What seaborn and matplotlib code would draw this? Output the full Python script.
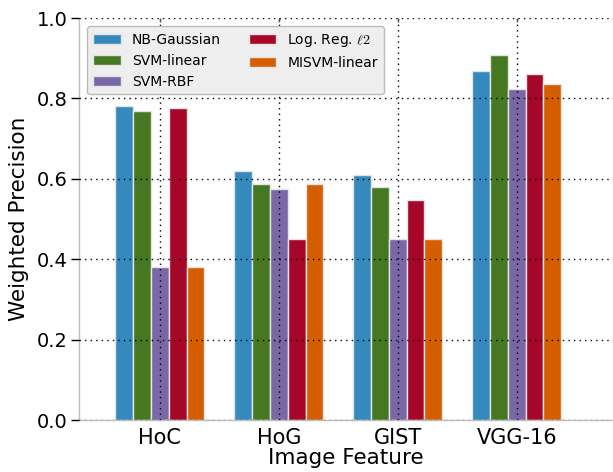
import seaborn as sns
import pandas as pd
import matplotlib.pyplot as plt

features = ["HoC", "HoG", "GIST", "VGG-16"]
methods = ["NB-Gaussian", "SVM-linear", "SVM-RBF", r"Log. Reg. $\ell2$", "MISVM-linear"]
nb_gaussian = [0.780, 0.620, 0.609, 0.868]
svm_linear = [0.769, 0.588, 0.579, 0.909]
svm_rbf = [0.380, 0.574, 0.451, 0.823]
log_reg = [0.775, 0.451, 0.547, 0.861]
misvm_linear = [0.380, 0.588, 0.451, 0.835]
colors = ["#348ABD", "#467821", "#7A68A6", "#A60628", "#D55E00"]

rows = []
for m, vals in zip(methods, [nb_gaussian, svm_linear, svm_rbf, log_reg, misvm_linear]):
    for f, v in zip(features, vals):
        rows.append({"feature": f, "method": m, "precision": v})
df = pd.DataFrame(rows)

sns.set_theme(style="white")
plt.rcParams['font.family'] = ['DejaVu Sans']
plt.rcParams['mathtext.fontset'] = 'cm'
plt.rcParams['text.color'] = 'black'
plt.rcParams['axes.labelcolor'] = 'black'
plt.rcParams['xtick.color'] = 'black'
plt.rcParams['ytick.color'] = 'black'

fig = plt.figure(figsize=(6.13, 4.72), dpi=100)
ax = fig.add_axes([79/613, 52/472, 1 - 79/613, 402/472])

sns.barplot(data=df, x="feature", y="precision", hue="method", palette=colors,
            width=0.75, errorbar=None, saturation=1, edgecolor="#e4e4e4",
            linewidth=1, ax=ax)

ax.set_xlim(-0.68, 3.81)
ax.set_ylim(0, 1.0)
ax.set_yticks([0.0, 0.2, 0.4, 0.6, 0.8, 1.0])
ax.set_yticklabels(["0.0", "0.2", "0.4", "0.6", "0.8", "1.0"], fontsize=14)
ax.tick_params(axis="x", labelsize=15, bottom=False, top=True, direction="in",
               length=3, width=1, color="#555555", pad=6)
ax.tick_params(axis="y", direction="out", length=6, width=1, color="black", left=True, pad=2)
ax.set_xlabel("Image Feature", fontsize=15.5, labelpad=0)
ax.set_ylabel("Weighted Precision", fontsize=15.5, labelpad=6)

ax.set_axisbelow(False)
ax.grid(True, color="black", linestyle=(0, (1, 3)), linewidth=1)

for s in ["top", "right"]:
    ax.spines[s].set_visible(False)
ax.spines["left"].set_color("#bcbcbc")
ax.spines["bottom"].set_color("#bcbcbc")
ax.spines["left"].set_linewidth(1)
ax.spines["bottom"].set_linewidth(1)

leg = ax.legend(ncol=2, loc="upper left", fontsize=10, fancybox=True,
                borderaxespad=0.6, framealpha=1, title=None)
leg.get_frame().set_facecolor("#eeeeee")
leg.get_frame().set_edgecolor("#bcbcbc")

fig.savefig("out.png", dpi=100)
